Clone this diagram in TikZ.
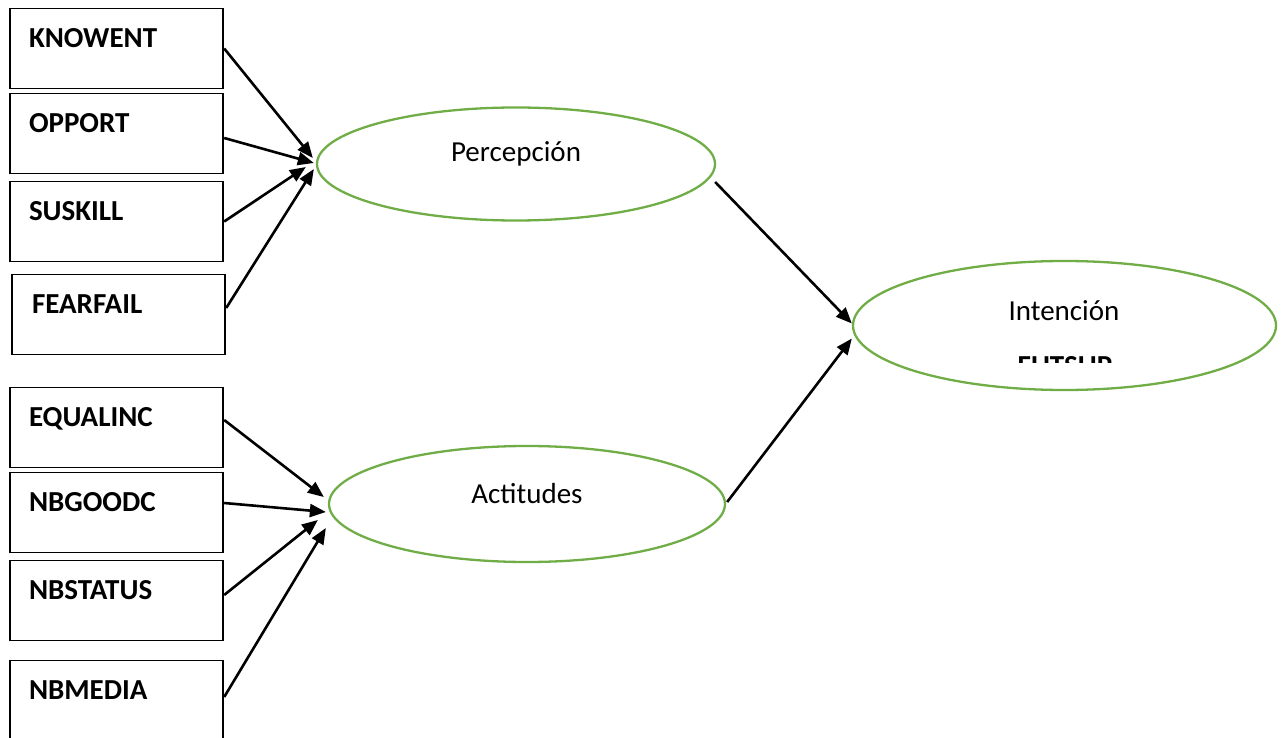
\documentclass[tikz,border=0pt]{standalone}
\usepackage{fontspec}
\setmainfont{Carlito}
\usetikzlibrary{shapes.geometric,arrows.meta,calc}
\definecolor{ogreen}{HTML}{70AD47}
\tikzset{
  box/.style={draw=black, line width=1.9pt, minimum width=213.5pt, minimum height=80pt, inner sep=0pt},
  lbl/.style={font=\fontsize{29}{32}\selectfont\bfseries, inner sep=0pt, anchor=base west},
  ell/.style={ellipse, draw=ogreen, line width=2.3pt, inner sep=0pt},
  etxt/.style={font=\fontsize{29}{32}\selectfont, inner sep=0pt},
  arr/.style={line width=2.6pt, -{Triangle[length=16pt,width=13pt]}}
}
\begin{document}
\begin{tikzpicture}[x=1pt,y=-1pt]
\useasboundingbox (0,0) rectangle (1288,738);
% boxes
\node[box] (knowent) at (116.5,48.5) {};
\node[box] (opport) at (116.5,133.5) {};
\node[box] (suskill) at (116.5,221.5) {};
\node[box] (fearfail) at (118.5,314.5) {};
\node[box] (equalinc) at (116.5,427.5) {};
\node[box] (nbgoodc) at (116.5,512.5) {};
\node[box] (nbstatus) at (116.5,600.5) {};
\node[box] (nbmedia) at (116.5,700.5) {};
% labels
\node[lbl] (tknowent) at ($(knowent.north west)+(20,39.5)$) {KNOWENT};
\node[lbl] (topport) at ($(opport.north west)+(20,39.5)$) {OPPORT};
\node[lbl] (tsuskill) at ($(suskill.north west)+(20,39.5)$) {SUSKILL};
\node[lbl] (tfearfail) at ($(fearfail.north west)+(21,39.5)$) {FEARFAIL};
\node[lbl] (tequalinc) at ($(equalinc.north west)+(20,39.5)$) {EQUALINC};
\node[lbl] (tnbgoodc) at ($(nbgoodc.north west)+(20,39.5)$) {NBGOODC};
\node[lbl] (tnbstatus) at ($(nbstatus.north west)+(20,39.5)$) {NBSTATUS};
\node[lbl] (tnbmedia) at ($(nbmedia.north west)+(20,39.5)$) {NBMEDIA};
% ellipses
\node[ell, minimum width=398pt, minimum height=113pt] (percep) at (516,164) {};
\node[ell, minimum width=396pt, minimum height=116pt] (actit) at (527,504) {};
\node[ell, minimum width=423pt, minimum height=129pt] (intent) at (1064.5,325.5) {};
\node[etxt] (tpercep) at (516,154) {Percepción};
\node[etxt] (tactit) at (527,494) {Actitudes};
\node[etxt] (tintent) at (1064,311) {Intención};
\begin{scope}
\clip (1000,300) rectangle (1130,362);
\node[font=\fontsize{29}{32}\selectfont\bfseries, inner sep=0pt, anchor=base] (tfutsup) at (1065,375.5) {FUTSUP};
\end{scope}
% arrows to Percepción
\draw[arr] (knowent.east) -- ([xshift=-3pt,yshift=6pt]percep.west);
\draw[arr] ([yshift=-4.5pt]opport.east) -- ([xshift=-2pt,yshift=1pt]percep.west);
\draw[arr] (suskill.east) -- ([xshift=-10pt,yshift=-3pt]percep.west);
\draw[arr] ([yshift=6.5pt]fearfail.east) -- ([xshift=-2pt,yshift=-5pt]percep.west);
% arrows to Actitudes
\draw[arr] ([yshift=7.5pt]equalinc.east) -- ([xshift=-4pt,yshift=7pt]actit.west);
\draw[arr] ([yshift=9.5pt]nbgoodc.east) -- ([xshift=-2pt,yshift=-8pt]actit.west);
\draw[arr] ([yshift=5.5pt]nbstatus.east) -- ([xshift=-10pt,yshift=-16pt]actit.west);
\draw[arr] ([yshift=3.5pt]nbmedia.east) -- ([xshift=-2pt,yshift=-24pt]actit.west);
% arrows to Intención
\draw[arr] ([xshift=-1pt,yshift=-18pt]percep.east) -- ([yshift=2pt]intent.west);
\draw[arr] ([xshift=1pt,yshift=2pt]actit.east) -- ([yshift=-13pt]intent.west);
\end{tikzpicture}
\end{document}
